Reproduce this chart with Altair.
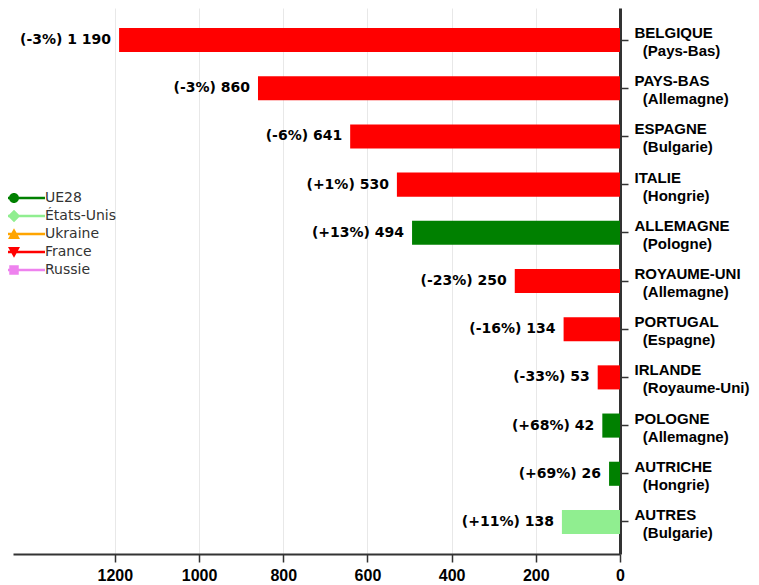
import altair as alt
import pandas as pd

# ---- data ----
countries = ["BELGIQUE", "PAYS-BAS", "ESPAGNE", "ITALIE", "ALLEMAGNE", "ROYAUME-UNI",
             "PORTUGAL", "IRLANDE", "POLOGNE", "AUTRICHE", "AUTRES"]
partners = ["Pays-Bas", "Allemagne", "Bulgarie", "Hongrie", "Pologne", "Allemagne",
            "Espagne", "Royaume-Uni", "Allemagne", "Hongrie", "Bulgarie"]
values = [1190, 860, 641, 530, 494, 250, 134, 53, 42, 26, 138]
changes = ["-3%", "-3%", "-6%", "+1%", "+13%", "-23%", "-16%", "-33%", "+68%", "+69%", "+11%"]
bar_colors = ["#FF0000", "#FF0000", "#FF0000", "#FF0000", "#008000", "#FF0000",
              "#FF0000", "#FF0000", "#008000", "#008000", "#90EE90"]

legend_series = ["UE28", "États-Unis", "Ukraine", "France", "Russie"]
legend_colors = ["#008000", "#90EE90", "#FFA500", "#FF0000", "#EE82EE"]

x_ticks = [0, 200, 400, 600, 800, 1000, 1200]

# ---- tables ----
def fmt(v):
    return f"{v:,}".replace(",", " ")

labels = [f"{c}|\u200b\u00a0\u00a0({p})" for c, p in zip(countries, partners)]
bars = pd.DataFrame({
    "label": labels,
    "value": values,
    "text": [f"({ch}) {fmt(v)}" for ch, v in zip(changes, values)],
    "fillc": bar_colors,
})
leg = pd.DataFrame({"series": legend_series})

# legend symbols: marker + horizontal line (custom SVG paths, same winding)
line = "M-6.2,-0.25L6.2,-0.25L6.2,0.25L-6.2,0.25Z"
shapes = [
    line + "M-1,0A1,1,0,1,1,1,0A1,1,0,1,1,-1,0Z",
    line + "M0,-1.25L1.25,0L0,1.25L-1.25,0Z",
    line + "M0,-1.15L1.2,1.0L-1.2,1.0Z",
    line + "M0,1.15L-1.2,-1.0L1.2,-1.0Z",
    line + "M-0.95,-0.95L0.95,-0.95L0.95,0.95L-0.95,0.95Z",
]

x_enc = alt.X(
    "value:Q",
    scale=alt.Scale(domain=[0, 1442], reverse=True, nice=False, zero=True),
    axis=alt.Axis(
        values=x_ticks, format="d", title=None, grid=True, gridColor="#e8e8e8",
        gridWidth=1, domainColor="#333333", domainWidth=2, tickColor="#333333",
        tickSize=8, tickWidth=1.5, labelFont="Liberation Sans",
        labelFontWeight="bold", labelFontSize=16, labelColor="#000000",
        labelPadding=5, labelFlush=False,
    ),
)
y_enc = alt.Y(
    "label:N", sort=None,
    scale=alt.Scale(paddingInner=0.5, paddingOuter=0.415),
    axis=alt.Axis(
        orient="right", title=None, domainColor="#333333", domainWidth=3,
        tickColor="#333333", tickSize=8, tickWidth=1.5, labelPadding=6,
        labelAlign="left", labelBaseline="middle", labelLineHeight=18,
        labelOffset=-7,
        labelFont="Liberation Sans", labelFontWeight="bold", labelFontSize=15,
        labelColor="#000000", labelLimit=300,
        labelExpr="split(datum.label, '|')",
    ),
)

bar_layer = alt.Chart(bars).mark_bar().encode(
    x=x_enc, y=y_enc, fill=alt.Fill("fillc:N", scale=None)
)
text_layer = alt.Chart(bars).mark_text(
    align="right", baseline="middle", dx=-8, font="DejaVu Sans",
    fontWeight="bold", fontSize=14, color="#000000"
).encode(x="value:Q", y=alt.Y("label:N", sort=None), text="text:N")

legend_props = dict(
    orient="none", legendX=-6, legendY=183, title=None,
    symbolSize=100, symbolStrokeWidth=0, symbolOpacity=1,
    labelOffset=24, labelFont="DejaVu Sans", labelFontSize=14,
    labelColor="#333333", rowPadding=4, padding=0,
)
legend_layer = alt.Chart(leg).mark_point(filled=True, opacity=0).encode(
    color=alt.Color(
        "series:N",
        scale=alt.Scale(domain=legend_series, range=legend_colors),
        legend=alt.Legend(**legend_props),
    ),
    shape=alt.Shape(
        "series:N",
        scale=alt.Scale(domain=legend_series, range=shapes),
        legend=alt.Legend(**legend_props),
    ),
)

chart = alt.layer(bar_layer, text_layer, legend_layer).properties(
    width=607, height=546,
    autosize=alt.AutoSizeParams(type="none"),
    padding={"left": 5, "top": 0, "right": 131, "bottom": 31},
).configure_view(stroke=None)

chart.save("out.html", embed_options={"renderer": "svg", "actions": False})
